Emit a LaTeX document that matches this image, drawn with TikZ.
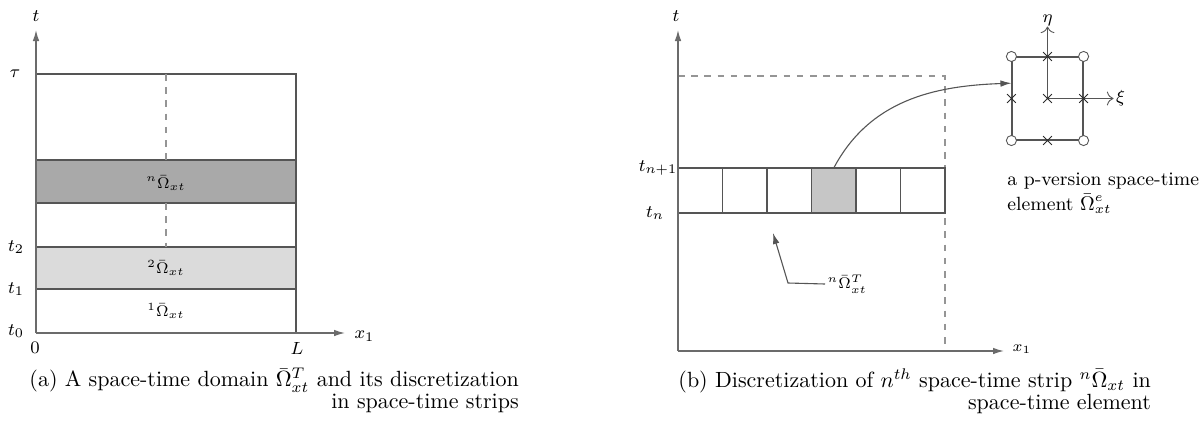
\documentclass[tikz,border=0pt]{standalone}
\usetikzlibrary{arrows.meta,shapes.misc}
\definecolor{ink}{HTML}{2B2B2B}
\definecolor{darkstrip}{HTML}{A9A9A9}
\definecolor{lightstrip}{HTML}{DBDBDB}
\definecolor{cellfill}{HTML}{C6C6C6}
\tikzset{
  >={Latex[length=5pt,width=3pt]},
  axis/.style={->,draw=ink!70,line width=0.6pt},
  edge/.style={draw=ink!80,line width=0.5pt},
  guide/.style={draw=ink!50,dashed,line width=0.5pt},
  lbl/.style={font=\footnotesize,inner sep=1pt},
  striplbl/.style={font=\scriptsize,inner sep=1pt},
  caption/.style={align=right,inner sep=0pt,anchor=north west,font=\fontsize{10}{10}\selectfont},
  cell/.style={draw=ink!80,line width=0.5pt,minimum width=20.23pt,minimum height=20.45pt,inner sep=0pt,outer sep=0pt},
  gpt/.style={circle,draw=ink!80,fill=white,minimum size=4.6pt,inner sep=0pt},
  xpt/.style={cross out,draw=ink,minimum size=3.6pt,inner sep=0pt},
  refaxis/.style={-{To[length=3pt]},draw=ink!80,line width=0.4pt},
}

\begin{document}
\begin{tikzpicture}[x=0.4545pt,y=-0.4545pt]
\useasboundingbox (0,0) rectangle (1200,421);

% (a) space-time domain
\coordinate (Oa) at (36,333);
\coordinate (Ta) at (36,30);
\coordinate (Xa) at (345,333);
\draw[edge,fill=darkstrip] (36,160) rectangle (296,203);
\draw[edge,fill=lightstrip] (36,247) rectangle (296,289);
\draw[edge] (36,74) -- (296,74) -- (296,333);
\draw[guide] (166,74) -- (166,160);
\draw[guide] (166,203) -- (166,247);
\draw[axis] (Oa) -- (Ta);
\draw[axis] (Oa) -- (Xa);
\node[lbl] (ta) at (36,16) {$t$};
\node[lbl,anchor=west] (x1a) at (352,336) {$x_1$};
\node[lbl] (tau) at (15,74) {$\tau$};
\node[lbl] (t2) at (16,247) {$t_2$};
\node[lbl] (t1) at (16,289) {$t_1$};
\node[lbl] (t0) at (16,331) {$t_0$};
\node[lbl] (zero) at (35,348) {$0$};
\node[lbl] (L) at (297,348) {$L$};
\node[striplbl] (sn) at (166,183) {${}^{n}\bar{\Omega}_{xt}$};
\node[striplbl] (s2) at (166,268) {${}^{2}\bar{\Omega}_{xt}$};
\node[striplbl] (s1) at (166,311) {${}^{1}\bar{\Omega}_{xt}$};
\node[caption] (capa) at (29,368)
  {(a) A space-time domain $\bar{\Omega}^T_{xt}$ and its discretization\\in space-time strips};

% (b) one strip in space-time elements
\coordinate (Ob) at (678,351);
\coordinate (Tb) at (678,30);
\coordinate (Xb) at (1004,351);
\draw[guide] (678,76) -- (945,76) -- (945,351);
\foreach \i in {0,...,5}
  \node[cell] (c\i) at (700.25+\i*44.5,190.5) {};
\node[cell,fill=cellfill] at (c3) {};
\draw[axis] (Ob) -- (Tb);
\draw[axis] (Ob) -- (Xb);
\node[lbl] (tb) at (676,16) {$t$};
\node[striplbl,anchor=west] (x1b) at (1010,349) {$x_1$};
\node[lbl] (tn1) at (658,168) {$t_{n+1}$};
\node[lbl] (tn) at (655,213) {$t_n$};
\coordinate (stripin) at (773,233);
\node[striplbl,anchor=west] (omlbl) at (825,284) {${}^{n}\bar{\Omega}^T_{xt}$};
\draw[edge,->] (omlbl.west) -- (788,283) -- (stripin);

% reference element
\node[draw=ink!80,line width=0.5pt,minimum width=32.3pt,minimum height=37.7pt,inner sep=0pt] (elem) at (1047.5,98.5) {};
\draw[refaxis] (elem.center) -- ++(0,-72) node[lbl,above,inner sep=0pt] (eta) {$\eta$};
\draw[refaxis] (elem.center) -- ++(66,0) node[lbl,right] (xi) {$\xi$};
\foreach \a in {north west,north east,south west,south east}
  \node[gpt] at (elem.\a) {};
\foreach \a in {north,south,west,east,center}
  \node[xpt] at (elem.\a) {};
\draw[edge,->] (c3.north) to[out=62,in=182] (elem.157);
\node[align=left,anchor=north west,inner sep=0pt,font=\fontsize{8.7}{11.4}\selectfont] (elemtxt) at (1007,172)
  {a p-version space-time\\element $\bar{\Omega}^e_{xt}$};
\node[caption] (capb) at (678,368)
  {(b) Discretization of $n^{th}$ space-time strip ${}^{n}\bar{\Omega}_{xt}$ in\\space-time element};
\end{tikzpicture}
\end{document}
